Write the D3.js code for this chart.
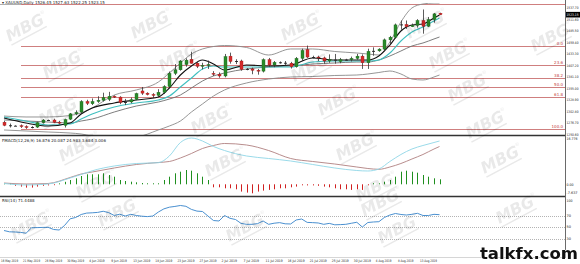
<!DOCTYPE html>
<html>
<head>
<meta charset="utf-8">
<script src="https://cdn.jsdelivr.net/npm/d3@7"></script>
<style>
  html, body { margin: 0; padding: 0; background: #fff; }
  svg { display: block; font-family: "DejaVu Sans", sans-serif; }
</style>
</head>
<body>
<svg id="chart" width="580" height="264"></svg>
<script>
/* ── Data ───────────────────────────────────────────────────────────────────── */
// daily candles, one row per bar: [open, high, low, close]
const candles = [
  [1279,1282,1270,1272],[1272,1276,1267,1271],[1271,1272,1270,1271],[1271,1274,1266,1269],
  [1269,1272,1264,1267],[1267,1270,1265,1268],[1268,1280,1266,1278],[1278,1286,1276,1284],
  [1284,1285,1283,1284],[1284,1287,1277,1279],[1279,1282,1274,1277],[1272,1287,1267,1285],
  [1286,1300,1284,1298],[1298,1306,1295,1301],[1302,1329,1300,1326],[1326,1330,1318,1322],
  [1321,1333,1318,1326],[1326,1338,1323,1329],[1329,1346,1326,1335],[1331,1348,1327,1338],
  [1338,1340,1334,1336],[1336,1338,1320,1324],[1324,1332,1318,1325],[1325,1335,1322,1330],
  [1331,1346,1329,1344],[1350,1359,1341,1345],[1345,1347,1340,1342],[1342,1345,1334,1340],
  [1340,1354,1336,1347],[1347,1363,1343,1360],[1360,1394,1358,1390],[1390,1411,1386,1398],
  [1398,1420,1396,1418],[1410,1424,1405,1420],[1422,1439,1412,1413],[1413,1416,1402,1406],
  [1406,1414,1399,1408],[1408,1419,1400,1410],[1390,1395,1384,1388],[1388,1392,1380,1384],
  [1384,1434,1381,1428],[1429,1437,1412,1417],[1417,1422,1411,1418],[1418,1421,1396,1399],
  [1399,1402,1397,1400],[1400,1403,1388,1397],[1397,1400,1387,1395],[1395,1424,1392,1421],
  [1421,1425,1405,1409],[1409,1418,1404,1415],[1415,1417,1412,1414],[1414,1418,1409,1413],
  [1413,1416,1401,1405],[1405,1427,1403,1424],[1424,1446,1418,1442],[1444,1453,1425,1427],
  [1427,1430,1424,1427],[1427,1430,1418,1425],[1425,1428,1412,1418],[1418,1433,1414,1421],
  [1421,1434,1412,1420],[1417,1425,1413,1421],[1421,1423,1419,1421],[1421,1428,1417,1424],
  [1424,1434,1421,1429],[1429,1433,1400,1414],[1414,1446,1400,1440],[1440,1449,1430,1441],
  [1441,1447,1439,1445],[1445,1469,1440,1466],[1466,1475,1456,1472],[1472,1503,1469,1500],
  [1500,1510,1489,1501],[1501,1510,1491,1496],[1496,1503,1495,1499],[1499,1513,1494,1510],
  [1510,1535,1480,1497],[1497,1518,1495,1512],[1512,1527,1505,1525],[1526.45,1527.63,1522.25,1523.15]
];

// bars at which the overlay / MACD lines were read
const lineIdx = [0,4,8,12,14,16,20,24,28,30,32,34,36,38,40,44,48,52,56,60,64,66,68,70,72,74,76,78,79];

const maFast = [1288.6,1277.2,1270.4,1277.2,1297.7,1311.3,1322.7,1329.5,1336.3,1356.7,1386.2,1406.7,1420.3,1411.2,1397.6,
  1408.9,1406.7,1408.9,1424.8,1420.3,1420.3,1420.3,1429.4,1454.3,1486.1,1499.8,1502.0,1515.7,1522.5];
const maSlow = [1290.9,1281.8,1272.7,1275.0,1286.3,1297.7,1313.6,1322.7,1329.5,1338.5,1359.0,1379.4,1399.9,1406.7,1404.4,
  1404.4,1404.4,1404.4,1415.7,1418.0,1418.0,1418.0,1420.3,1436.2,1463.4,1483.9,1495.2,1508.8,1515.6];
const bbMid = [1284.1,1281.8,1279.5,1277.2,1281.8,1286.3,1302.2,1315.8,1324.9,1331.7,1340.8,1356.7,1372.6,1384.0,1390.8,
  1399.9,1404.4,1406.7,1411.2,1413.5,1415.7,1415.7,1420.3,1429.4,1440.7,1452.1,1458.9,1468.0,1472.5];
const bbUpper = [1293.1,1290.9,1290.9,1294.3,1300.0,1311.3,1340.8,1352.2,1370.3,1390.8,1413.5,1433.9,1445.3,1450.9,1453.2,
  1448.7,1431.6,1445.3,1445.3,1439.6,1436.2,1433.9,1431.6,1461.2,1506.6,1538.4,1547.4,1549.7,1549.7];
const bbLower = [1261.4,1259.1,1256.8,1254.5,1252.3,1247.7,1243.2,1245.5,1261.4,1270.4,1281.8,1302.2,1320.4,1338.5,1352.2,
  1368.1,1377.1,1381.7,1382.8,1385.1,1386.2,1388.5,1391.9,1395.3,1388.5,1377.1,1374.9,1381.7,1386.2];

// Fibonacci retracement
const fibHigh = 1452.6, fibLow = 1263.5;
const fibLevels = [-50, 0, 23.6, 38.2, 50, 61.8, 100];
const fibLabels = ["150.0", "0.0", "23.6", "38.2", "50.0", "61.8", "100.0"];

const priceTicks = [1537.70,1511.60,1485.50,1459.40,1433.30,1407.20,1381.10,1355.00,1328.90,1302.80,1276.70,1250.60];
const lastPrice = 1523.15;

// MACD
const macdMain = [-2.46,-3.09,-2.67,-0.19,1.26,2.79,4.78,5.81,6.14,8.92,14.50,16.36,15.12,12.85,11.19,
  8.92,7.88,6.85,5.40,3.95,2.91,2.71,3.54,6.64,9.54,11.81,13.26,14.50,15.12];
const macdSignal = [-2.26,-2.67,-2.46,0.02,1.47,2.29,3.95,5.40,6.23,6.64,8.09,9.95,12.02,13.26,14.09,
  13.47,11.19,7.88,6.64,5.60,4.36,3.74,3.41,4.36,5.81,7.67,9.54,11.81,12.84];
const macdHist = [0.3,0.3,-1.5,-2.3,-3.3,-3.3,-2.3,-1.5,-0.5,-0.3,
  0.3,2.5,4.3,6,8.3,10,10,10,11,9.3,
  7.6,4.3,3.3,2.6,2,1.3,1,1,1,4.3,
  7.6,11,12.6,14.3,13.6,11,7.6,4.3,-3,-3,
  -4,-4,-5,-7.3,-8.3,-9,-7.3,-6.3,-5.6,-5,
  -4,-4,-3,-2.3,-1,-0.5,-0.5,-1.5,-2.3,-3,
  -4,-5,-5,-5.6,-5,-5.6,-1,0.5,1,2.6,
  4.3,7.6,12.6,13.6,12.6,11.6,9.3,7.6,6,5];
const macdMax = 16.776, macdMin = -7.637;

// RSI(14)
const rsi = [44.4,42.2,41.9,41.2,39.8,49.1,49.4,49.7,49.9,46.2,
  45.3,53.2,64.4,66.7,71.8,74.2,74.7,75.4,77.3,75.0,
  70.1,72.3,69.2,72.1,70.1,68.9,68.2,69.2,76.0,81.4,
  84.3,85.6,87.2,85.8,80.5,77.6,76.9,69.2,61.5,60.7,
  70.1,65.3,63.2,56.6,55.0,55.0,56.2,60.7,55.0,56.9,
  57.9,55.9,55.6,62.4,64.1,58.3,57.9,57.3,55.0,56.6,
  54.2,54.5,55.0,56.8,58.5,50.4,58.1,59.0,59.5,66.7,
  70.9,73.5,71.8,70.9,72.1,73.8,70.1,70.1,72.1,71.45];
const rsiLevels = [70, 50, 30];

// time axis
const dateIdx = [0,4,8,12,16,20,24,28,32,36,40,44,48,52,56,60,64,68,72,76];
const dateLabels = ["16 May 2019","21 May 2019","26 May 2019","30 May 2019","4 Jun 2019","9 Jun 2019",
  "13 Jun 2019","18 Jun 2019","23 Jun 2019","27 Jun 2019","2 Jul 2019","7 Jul 2019","11 Jul 2019",
  "16 Jul 2019","21 Jul 2019","25 Jul 2019","30 Jul 2019","4 Aug 2019","8 Aug 2019","13 Aug 2019"];

/* ── Layout ─────────────────────────────────────────────────────────────────── */
const W = 580, H = 264, R = 565;
const MAIN = [3, 135], MACD = [136, 196], RSI = [197, 257];
const FS = 4, AXFS = 3.4;

const svg = d3.select("#chart");
const defs = svg.append("defs");
[["clipMain", MAIN], ["clipMacd", MACD], ["clipRsi", RSI]].forEach(([id, p]) => {
  defs.append("clipPath").attr("id", id).append("rect")
    .attr("x", 0).attr("y", p[0]).attr("width", R).attr("height", p[1] - p[0]);
});

const x = d3.scaleLinear().domain([0, candles.length - 1]).range([4, 439.5]);
const y = d3.scaleLinear().domain([1250, 1549.7]).range([MAIN[1], MAIN[0]]);
const my = d3.scaleLinear().domain([macdMin, macdMax]).range([MACD[1], MACD[0] + 1]);
const hy = d3.scaleLinear().domain([-10, 10]).range([194.3, 174.3]);
const ry = d3.scaleLinear().domain([0, 100]).range([256.5, 198]);

// squeeze a text into a fixed width, like the tiny terminal font
const fit = (sel, w) => sel.attr("textLength", w).attr("lengthAdjust", "spacingAndGlyphs");

/* ── Main panel ─────────────────────────────────────────────────────────────── */
const gMain = svg.append("g").attr("clip-path", "url(#clipMain)");

gMain.append("line").attr("x1", 0).attr("x2", R).attr("y1", 4.5).attr("y2", 4.5)
  .attr("stroke", "#999").attr("stroke-width", 0.8);

const fibPrice = l => fibHigh - (fibHigh - fibLow) * l / 100;
gMain.selectAll("line.fib").data(fibLevels).join("line")
  .attr("class", "fib")
  .attr("x1", 21).attr("x2", R)
  .attr("y1", d => Math.round(y(fibPrice(d))) + 0.5)
  .attr("y2", d => Math.round(y(fibPrice(d))) + 0.5)
  .attr("stroke", "#cf7f7f").attr("stroke-width", 1);
gMain.selectAll("text.fib").data(fibLevels).join("text")
  .attr("class", "fib")
  .attr("x", 563).attr("y", d => y(fibPrice(d)) - 1)
  .attr("text-anchor", "end").attr("font-size", FS).attr("fill", "#c23a3a")
  .text((d, i) => fibLabels[i]);

// overlay lines
const lineGen = (arr, sc) => d3.line()
  .x((d, i) => x(lineIdx[i])).y(d => sc(d))
  .curve(d3.curveMonotoneX)(arr);

[[bbUpper, "#8a8a8a", 0.9], [bbLower, "#8a8a8a", 0.9], [bbMid, "#6e6e6e", 0.9],
 [maSlow, "#3fbfbf", 1.1], [maFast, "#111", 1.1]].forEach(([arr, c, w]) => {
  gMain.append("path").attr("d", lineGen(arr, y))
    .attr("fill", "none").attr("stroke", c).attr("stroke-width", w);
});

// candles
const UP = "#2a8a2a", DOWN = "#d42a2a";
const gC = gMain.append("g");
gC.selectAll("line.wick").data(candles).join("line")
  .attr("class", "wick")
  .attr("x1", (d, i) => Math.round(x(i)) + 0.5).attr("x2", (d, i) => Math.round(x(i)) + 0.5)
  .attr("y1", d => y(d[1])).attr("y2", d => y(d[2]))
  .attr("stroke", "#333").attr("stroke-width", 0.8);
gC.selectAll("rect.body").data(candles).join("rect")
  .attr("class", "body")
  .attr("x", (d, i) => Math.round(x(i)) - 1)
  .attr("width", 3)
  .attr("y", d => y(Math.max(d[0], d[3])))
  .attr("height", d => Math.max(0.9, Math.abs(y(d[0]) - y(d[3]))))
  .attr("fill", d => Math.abs(d[3] - d[0]) < 2 ? "#222" : d[3] >= d[0] ? UP : DOWN)
  .attr("stroke", d => Math.abs(d[3] - d[0]) < 2 ? "none" : d[3] >= d[0] ? "#1d6b1d" : "#a81c1c")
  .attr("stroke-width", 0.4);

// title
svg.append("text").attr("x", 2).attr("y", 4).attr("font-size", FS).attr("fill", "#222")
  .text("\u25BE XAUUSD,Daily  1526.45 1527.63 1522.25 1523.15");

/* ── MACD panel ─────────────────────────────────────────────────────────────── */
const gMacd = svg.append("g").attr("clip-path", "url(#clipMacd)");
gMacd.selectAll("line.hist").data(macdHist).join("line")
  .attr("class", "hist")
  .attr("x1", (d, i) => Math.round(x(i)) + 0.5).attr("x2", (d, i) => Math.round(x(i)) + 0.5)
  .attr("y1", hy(0)).attr("y2", d => hy(d) + (Math.abs(d) < 0.6 ? (d >= 0 ? -0.6 : 0.6) : 0))
  .attr("stroke", d => d >= 0 ? "#1f8f1f" : "#d02020").attr("stroke-width", 1);
gMacd.append("path").attr("d", lineGen(macdSignal, my))
  .attr("fill", "none").attr("stroke", "#b08080").attr("stroke-width", 0.9);
gMacd.append("path").attr("d", lineGen(macdMain, my))
  .attr("fill", "none").attr("stroke", "#8fd6e6").attr("stroke-width", 0.9);

svg.append("text").attr("x", 2).attr("y", 141.5).attr("font-size", FS).attr("fill", "#222")
  .text("FMACD(12,26,9) 16.876 20.087 24.983 3.684 3.006");

/* ── RSI panel ──────────────────────────────────────────────────────────────── */
const gRsi = svg.append("g").attr("clip-path", "url(#clipRsi)");
gRsi.selectAll("line.lvl").data(rsiLevels).join("line")
  .attr("class", "lvl")
  .attr("x1", 0).attr("x2", R)
  .attr("y1", d => Math.round(ry(d)) + 0.5).attr("y2", d => Math.round(ry(d)) + 0.5)
  .attr("stroke", "#a0a0a0").attr("stroke-width", 0.8).attr("stroke-dasharray", "1,1");
gRsi.append("path")
  .attr("d", d3.line().x((d, i) => x(i)).y(d => ry(d))(rsi))
  .attr("fill", "none").attr("stroke", "#4a90d0").attr("stroke-width", 1);

svg.append("text").attr("x", 2).attr("y", 202).attr("font-size", FS).attr("fill", "#222")
  .text("RSI(14) 71.4488");

/* ── Frame & axes ───────────────────────────────────────────────────────────── */
[MAIN[1] + 0.5, MACD[1] + 0.5].forEach(v => {
  svg.append("line").attr("x1", 0).attr("x2", R).attr("y1", v).attr("y2", v)
    .attr("stroke", "#333").attr("stroke-width", 1.3);
});
svg.append("line").attr("x1", 0).attr("x2", R).attr("y1", 257.5).attr("y2", 257.5)
  .attr("stroke", "#bbb").attr("stroke-width", 0.6);
svg.append("line").attr("x1", R + 0.5).attr("x2", R + 0.5).attr("y1", 0).attr("y2", 258)
  .attr("stroke", "#444").attr("stroke-width", 0.8);

const ax = svg.append("g").attr("font-size", AXFS).attr("fill", "#222");
ax.selectAll("text.p").data(priceTicks).join("text")
  .attr("class", "p").attr("x", 566.5).attr("y", d => y(d) + 1.2).text(d => d.toFixed(2))
  .call(fit, 12);
ax.append("rect").attr("x", R + 1).attr("y", y(lastPrice) - 2.8).attr("width", 14).attr("height", 5.6).attr("fill", "#000");
ax.append("text").attr("x", 566.5).attr("y", y(lastPrice) + 1.2).attr("fill", "#fff").text(lastPrice.toFixed(2))
  .call(fit, 12);

ax.append("text").attr("x", 566.5).attr("y", 140).text(macdMax.toFixed(3)).call(fit, 11);
ax.append("text").attr("x", 566.5).attr("y", hy(0) + 1.2).text("0.00").call(fit, 7);
ax.append("text").attr("x", 566.5).attr("y", 194).text(macdMin.toFixed(3)).call(fit, 11);

ax.append("text").attr("x", 566.5).attr("y", 202).text("100").call(fit, 6);
ax.selectAll("text.r").data(rsiLevels).join("text")
  .attr("class", "r").attr("x", 566.5).attr("y", d => ry(d) + 1.2).text(d => d).call(fit, 4.5);

ax.selectAll("text.d").data(dateIdx).join("text")
  .attr("class", "d").attr("x", d => x(d) - 3).attr("y", 262).text((d, i) => dateLabels[i])
  .each(function (d, i) { d3.select(this).call(fit, dateLabels[i].length * 1.55); });

/* ── Watermarks ─────────────────────────────────────────────────────────────── */
const marks = [[25,28],[62,65],[58,112],[150,25],[178,58],[210,120],[300,27],[310,68],[337,102],
  [425,25],[448,55],[467,88],[485,125],[550,38],[78,148],[224,163],[95,185],[355,147],[500,160],
  [375,188],[30,226],[117,213],[245,228],[380,203],[397,230],[515,210]];
const gW = svg.append("g").attr("opacity", 0.09);
marks.forEach(([mx, myy]) => {
  const g = gW.append("g").attr("transform", `translate(${mx},${myy}) rotate(-28)`);
  g.append("text").attr("text-anchor", "middle").attr("y", 5)
    .attr("font-size", 16).attr("font-weight", "bold").attr("font-style", "italic")
    .attr("fill", "#000").text("MBG");
  g.append("text").attr("x", 20).attr("y", -4).attr("font-size", 5).attr("fill", "#000").text("\u00AE");
  g.append("rect").attr("x", -20).attr("y", 8).attr("width", 40).attr("height", 1.5).attr("fill", "#000");
});

/* ── Site mark ──────────────────────────────────────────────────────────────── */
svg.append("text").attr("x", 578).attr("y", 259).attr("text-anchor", "end")
  .attr("font-size", 16.5).attr("font-weight", "bold").attr("fill", "#111")
  .attr("stroke", "#fff").attr("stroke-width", 0.6).attr("paint-order", "stroke")
  .text("talkfx.com");
</script>
</body>
</html>
